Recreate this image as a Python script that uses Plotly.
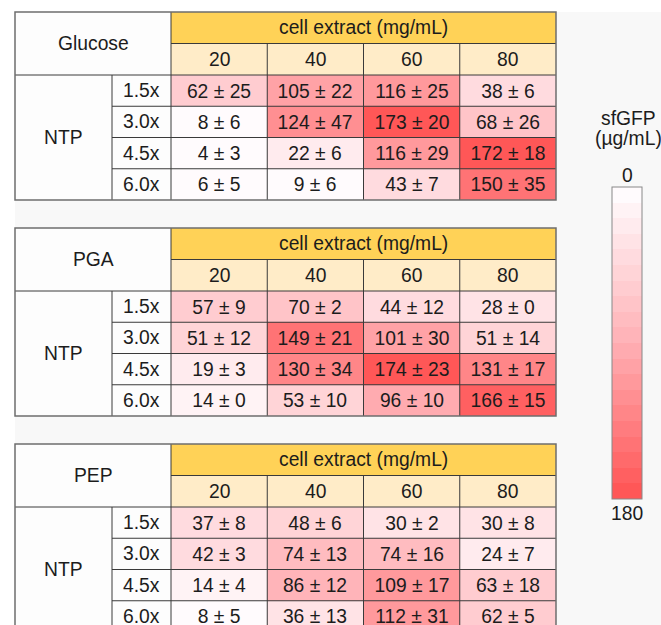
import plotly.graph_objects as go

# ---- data: sfGFP yield (µg/mL), mean and standard deviation ----
energy_sources = ["Glucose", "PGA", "PEP"]
extract_levels = ["20", "40", "60", "80"]          # cell extract (mg/mL)
ntp_levels = ["1.5x", "3.0x", "4.5x", "6.0x"]

glucose_mean = [[62, 105, 116, 38],
                [8, 124, 173, 68],
                [4, 22, 116, 172],
                [6, 9, 43, 150]]
glucose_sd = [[25, 22, 25, 6],
              [6, 47, 20, 26],
              [3, 6, 29, 18],
              [5, 6, 7, 35]]

pga_mean = [[57, 70, 44, 28],
            [51, 149, 101, 51],
            [19, 130, 174, 131],
            [14, 53, 96, 166]]
pga_sd = [[9, 2, 12, 0],
          [12, 21, 30, 14],
          [3, 34, 23, 17],
          [0, 10, 10, 15]]

pep_mean = [[37, 48, 30, 30],
            [42, 74, 74, 24],
            [14, 86, 109, 63],
            [8, 36, 112, 62]]
pep_sd = [[8, 6, 2, 8],
          [3, 13, 16, 7],
          [4, 12, 17, 18],
          [5, 13, 31, 5]]

means = [glucose_mean, pga_mean, pep_mean]
sds = [glucose_sd, pga_sd, pep_sd]

# ---- layout constants (pixel space) ----
W, H = 661, 625
FONT = "Liberation Sans, Arial, sans-serif"
FS = 19.3
TXT = "#1c1c1c"
table_tops = [12, 228, 444]
X0 = 15            # table left edge
X_ROWLAB = 112     # start of NTP level column
X_DATA = 171       # start of data columns
COL_W = 96.25
H1 = 31.5          # "cell extract" header row
H2 = 31.5          # extract level header row
ROW_H = 31.25
X_END = X_DATA + COL_W * len(extract_levels)

ZMIN, ZMAX = 0, 180
N_BANDS = 20


def hex_to_rgb(h):
    h = h.lstrip("#")
    return tuple(int(h[i:i + 2], 16) for i in (0, 2, 4))


# colour ramp from 0 (near white) to 180 (red)
base_stops = [(0.0, "#fffbfd"), (0.5, "#ffb0b5"), (1.0, "#ff5757")]


def interp(t):
    for (t0, c0), (t1, c1) in zip(base_stops[:-1], base_stops[1:]):
        if t0 <= t <= t1:
            f = (t - t0) / (t1 - t0)
            a, b = hex_to_rgb(c0), hex_to_rgb(c1)
            return "rgb(%d,%d,%d)" % tuple(round(a[i] + (b[i] - a[i]) * f) for i in range(3))
    return base_stops[-1][1]


# The colour bar should read 0 at the top and 180 at the bottom, so the
# heatmaps are coloured on the negated value: -180 (bottom, red) .. 0 (top, white).
colorscale = []
for k in range(N_BANDS):
    c = interp(1 - k / (N_BANDS - 1))
    colorscale.append([k / N_BANDS, c])
    colorscale.append([(k + 1) / N_BANDS, c])

fig = go.Figure()
shapes = []
annotations = []

# light grey panel behind all tables
shapes.append(dict(type="rect", x0=X0, x1=W, y0=table_tops[0], y1=H,
                   fillcolor="#f8f8f8", line_width=0, layer="below"))

for t, name in enumerate(energy_sources):
    top = table_tops[t]
    y_hdr2 = top + H1
    y_data = top + H1 + H2
    bottom = y_data + ROW_H * len(ntp_levels)

    # header and label cell fills
    shapes += [
        dict(type="rect", x0=X_DATA, x1=X_END, y0=top, y1=y_hdr2,
             fillcolor="#ffd257", line_width=0, layer="below"),
        dict(type="rect", x0=X_DATA, x1=X_END, y0=y_hdr2, y1=y_data,
             fillcolor="#ffecc8", line_width=0, layer="below"),
        dict(type="rect", x0=X0, x1=X_DATA, y0=top, y1=bottom,
             fillcolor="#fdfdfd", line_width=0, layer="below"),
    ]

    # data cells as a heatmap
    xs = [X_DATA + COL_W * (j + 0.5) for j in range(len(extract_levels))]
    ys = [y_data + ROW_H * (i + 0.5) for i in range(len(ntp_levels))]
    labels = [[f"{m} ± {s}" for m, s in zip(mr, sr)] for mr, sr in zip(means[t], sds[t])]
    fig.add_trace(go.Heatmap(
        x=xs, y=ys, z=[[-v for v in row] for row in means[t]],
        text=labels, texttemplate="%{text}",
        textfont=dict(family=FONT, size=FS, color=TXT),
        coloraxis="coloraxis", hoverinfo="skip", xgap=0, ygap=0,
    ))

    # grid lines
    line_dark = dict(color="#3a3a3a", width=1)
    shapes.append(dict(type="line", x0=X_DATA, x1=X_END, y0=y_hdr2, y1=y_hdr2, line=line_dark, layer="above"))
    shapes.append(dict(type="line", x0=X0, x1=X_END, y0=y_data, y1=y_data, line=line_dark, layer="above"))
    for i in range(1, len(ntp_levels)):
        y = y_data + ROW_H * i
        shapes.append(dict(type="line", x0=X_ROWLAB, x1=X_END, y0=y, y1=y, line=line_dark, layer="above"))
    shapes.append(dict(type="line", x0=X_DATA, x1=X_DATA, y0=top, y1=bottom, line=line_dark, layer="above"))
    shapes.append(dict(type="line", x0=X_ROWLAB, x1=X_ROWLAB, y0=y_data, y1=bottom, line=line_dark, layer="above"))
    for j in range(1, len(extract_levels)):
        x = X_DATA + COL_W * j
        shapes.append(dict(type="line", x0=x, x1=x, y0=y_hdr2, y1=bottom, line=line_dark, layer="above"))
    shapes.append(dict(type="rect", x0=X0, x1=X_END, y0=top, y1=bottom,
                       line=dict(color="#6e6e6e", width=1.5), layer="above"))

    # header texts
    annotations.append(dict(x=(X_DATA + X_END) / 2, y=top + H1 / 2, text="cell extract (mg/mL)"))
    for j, lev in enumerate(extract_levels):
        annotations.append(dict(x=xs[j], y=y_hdr2 + H2 / 2, text=lev))
    annotations.append(dict(x=(X0 + X_DATA) / 2, y=top + (H1 + H2) / 2, text=name))
    annotations.append(dict(x=(X0 + X_ROWLAB) / 2, y=(y_data + bottom) / 2, text="NTP"))
    for i, lev in enumerate(ntp_levels):
        annotations.append(dict(x=(X_ROWLAB + X_DATA) / 2, y=ys[i], text=lev))

# colour bar geometry
CB_X, CB_W = 612, 30
CB_TOP, CB_BOT = 187, 499
cb_cx = CB_X + CB_W / 2

annotations += [
    dict(x=cb_cx + 1, y=118, text="sfGFP"),
    dict(x=cb_cx + 1, y=138, text="(µg/mL)"),
    dict(x=cb_cx, y=175, text=str(ZMIN)),
    dict(x=cb_cx, y=513, text=str(ZMAX)),
]
for a in annotations:
    a.update(xref="x", yref="y", showarrow=False, xanchor="center", yanchor="middle",
             font=dict(family=FONT, size=FS, color=TXT))

fig.update_layout(
    width=W, height=H,
    margin=dict(l=0, r=0, t=0, b=0),
    paper_bgcolor="white", plot_bgcolor="white",
    xaxis=dict(range=[0, W], visible=False, fixedrange=True),
    yaxis=dict(range=[H, 0], visible=False, fixedrange=True),
    shapes=shapes,
    annotations=annotations,
    showlegend=False,
    coloraxis=dict(
        colorscale=colorscale, cmin=-ZMAX, cmax=-ZMIN,
        colorbar=dict(
            x=CB_X / W, xanchor="left", xpad=0,
            y=1 - (CB_TOP + CB_BOT) / 2 / H, yanchor="middle", ypad=0,
            len=CB_BOT - CB_TOP, lenmode="pixels",
            thickness=CB_W, thicknessmode="pixels",
            outlinewidth=1, outlinecolor="#888888",
            showticklabels=False, ticks="",
        ),
    ),
)

fig.write_html("out.html")
